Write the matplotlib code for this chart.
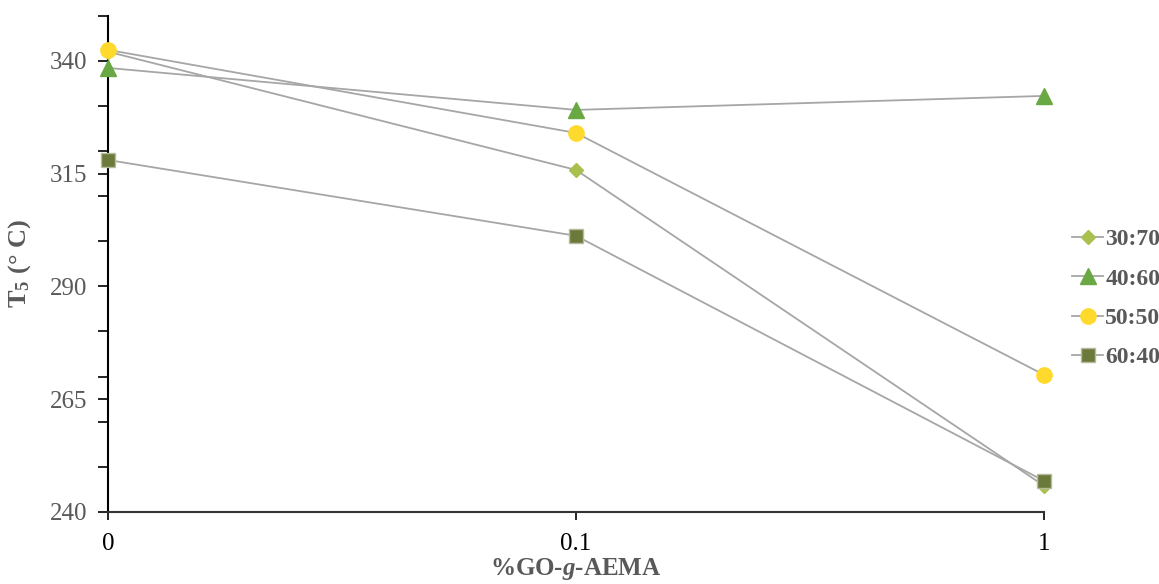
import matplotlib.pyplot as plt
import numpy as np

plt.rcParams['font.family'] = ['Liberation Serif', 'DejaVu Serif']
plt.rcParams['mathtext.fontset'] = 'custom'
plt.rcParams['mathtext.rm'] = 'Liberation Serif:bold'
plt.rcParams['mathtext.it'] = 'Liberation Serif:italic:bold'

# data
categories = ['0', '0.1', '1']
series_names = ['30:70', '40:60', '50:50', '60:40']
t5_30_70 = [342.0, 315.8, 245.8]
t5_40_60 = [338.4, 329.1, 332.2]
t5_50_50 = [342.4, 324.0, 270.4]
t5_60_40 = [318.0, 301.2, 246.9]

series = [t5_30_70, t5_40_60, t5_50_50, t5_60_40]
markers = ['D', '^', 'o', 's']
sizes = [7, 11, 11, 10]
face = ['#A9BF4E', '#6AA843', '#FFD92B', '#6B7A3A']
edge = ['#A9BF4E', '#6AA843', '#FFD92B', '#B5BC9E']
gray = '#595959'

fig = plt.figure(figsize=(11.59, 5.84), dpi=100)
ax = fig.add_axes([0.0932, 0.1233, 0.8076, 0.85])

x = np.arange(len(categories))
for name, vals, m, s, fc, ec in zip(series_names, series, markers, sizes, face, edge):
    ax.plot(x, vals, color='#A6A6A6', lw=1.3, marker=m, ms=s,
            markerfacecolor=fc, markeredgecolor=ec, markeredgewidth=1,
            label=name, clip_on=False, zorder=3)

ax.set_xlim(0, 2)
ax.set_ylim(240, 350)
ax.set_xticks(x)
ax.set_xticklabels(categories, fontsize=18, color='black')
ax.set_yticks([240, 265, 290, 315, 340])
ax.set_yticks(np.arange(240, 351, 10), minor=True)
ax.tick_params(axis='y', which='both', direction='out', length=7, width=1.2,
               labelsize=18, labelcolor=gray, pad=8)
ax.tick_params(axis='x', direction='out', length=6, width=1.2, pad=9)
ax.xaxis.set_ticks_position('bottom')
for side in ['top', 'right']:
    ax.spines[side].set_visible(False)
ax.spines['left'].set_linewidth(1.5)
ax.spines['bottom'].set_linewidth(1.5)
ax.spines['bottom'].set_color('#333333')

ax.set_ylabel('T$_5$ (° C)', fontsize=19, fontweight='bold', color=gray, labelpad=12)
ax.set_xlabel('%GO-$g$-AEMA', fontsize=18, fontweight='bold', color=gray, labelpad=1)

leg = ax.legend(loc='center left', bbox_to_anchor=(1.02, 0.43), frameon=False,
                prop={'size': 17, 'weight': 'bold'}, labelcolor=gray,
                handlelength=1.3, handletextpad=0.1, labelspacing=0.75,
                borderaxespad=0)

plt.savefig('out.png', dpi=100)
